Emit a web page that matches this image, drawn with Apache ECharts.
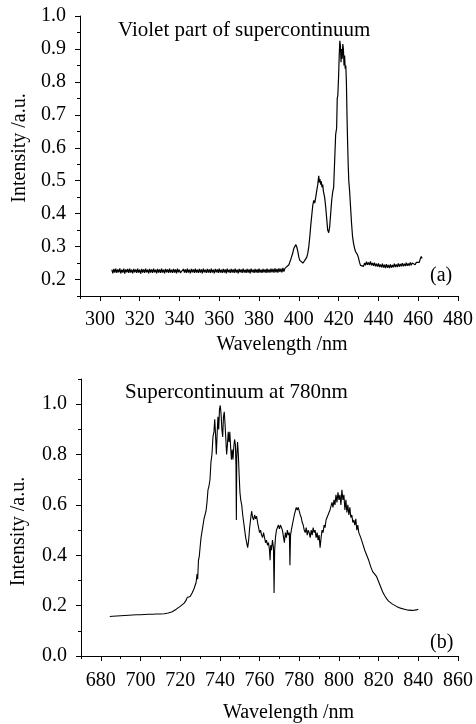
<!DOCTYPE html>
<html>
<head>
<meta charset="utf-8">
<script src="https://cdn.jsdelivr.net/npm/echarts@6/dist/echarts.min.js"></script>
<style>
  html, body { margin: 0; padding: 0; background: #fff; }
  #chart { width: 476px; height: 724px; }
</style>
</head>
<body>
<div id="chart"></div>
<script>
// (a) violet part: [wavelength nm, intensity a.u.]
const violetSpectrum = [
  [306,.230],[306.5,.219],[307,.232],[307.5,.221],[308,.233],[308.5,.220],[309,.231],[309.5,.222],[310,.234],[310.5,.219],
  [311,.230],[311.5,.221],[312,.233],[312.5,.218],[313,.231],[313.5,.222],[314,.232],[314.5,.220],[315,.233],[315.5,.221],
  [316,.230],[316.5,.219],[317,.232],[317.5,.222],[318,.231],[318.5,.220],[319,.233],[319.5,.221],[320,.230],[320.5,.218],
  [321,.232],[321.5,.221],[322,.231],[322.5,.220],[323,.233],[323.5,.222],[324,.230],[324.5,.219],[325,.232],[325.5,.221],
  [326,.231],[326.5,.220],[327,.233],[327.5,.222],[328,.230],[328.5,.219],[329,.232],[329.5,.221],[330,.231],[330.5,.220],
  [331,.233],[331.5,.221],[332,.230],[332.5,.219],[333,.232],[333.5,.222],[334,.231],[334.5,.220],[335,.233],[335.5,.221],
  [336,.230],[336.5,.220],[337,.232],[337.5,.221],[338,.231],[338.5,.219],[339,.233],[339.5,.222],[340,.230],[340.5,.220],
  [342,.232],[342.5,.221],[343,.231],[343.5,.220],[344,.233],[344.5,.221],[345,.230],[345.5,.219],[346,.232],[346.5,.222],
  [347,.231],[347.5,.220],[348,.233],[348.5,.221],[349,.230],[349.5,.220],[350,.232],[350.5,.221],[351,.231],[351.5,.219],
  [352,.233],[352.5,.222],[353,.230],[353.5,.220],[354,.232],[354.5,.221],[355,.231],[355.5,.220],[356,.233],[356.5,.221],
  [357,.230],[357.5,.219],[358,.232],[358.5,.222],[359,.231],[359.5,.220],[360,.233],[360.5,.221],[361,.230],[361.5,.220],
  [362,.232],[362.5,.221],[363,.231],[363.5,.219],[364,.233],[364.5,.222],[365,.230],[365.5,.220],[366,.232],[366.5,.221],
  [367,.231],[367.5,.220],[368,.233],[368.5,.221],[369,.230],[369.5,.219],[370,.232],[370.5,.222],[371,.231],[371.5,.220],
  [372,.233],[372.5,.221],[373,.230],[373.5,.220],[374,.232],[374.5,.221],[375,.231],[375.5,.219],[376,.233],[376.5,.222],
  [377,.230],[377.5,.220],[378,.232],[378.5,.221],[379,.231],[379.5,.220],[380,.233],[380.5,.221],[381,.230],[381.5,.220],
  [382,.232],[382.5,.222],[383,.231],[383.5,.220],[384,.233],[384.5,.221],[385,.231],[385.5,.221],[386,.233],[386.5,.222],
  [387,.232],[387.5,.221],[388,.234],[388.5,.222],[389,.232],[389.5,.221],[390,.234],[390.5,.223],[391,.233],[391.5,.222],
  [392,.235],[392.5,.224],[393,.234],[393.5,.230],
  [394,.238],[395,.245],[396,.262],[397,.282],[397.5,.295],[398,.300],[398.5,.306],[399,.298],[399.5,.285],
  [400,.268],[400.5,.258],[401,.252],[401.5,.255],[402,.250],[402.5,.256],[403,.258],[403.5,.262],[404,.268],
  [404.5,.280],[405,.300],[405.5,.330],[406,.365],[406.5,.395],[407,.425],[407.5,.440],[408,.432],[408.5,.450],
  [409,.470],[409.5,.488],[410,.515],[410.3,.495],[410.6,.505],[411,.488],[411.3,.498],[411.6,.480],[412,.488],
  [412.3,.470],[412.6,.475],[413,.448],[413.5,.420],[414,.385],[414.5,.350],[415,.342],[415.5,.360],[416,.400],
  [416.5,.440],[417,.465],[417.5,.480],[418,.560],[418.5,.640],[419,.660],[419.3,.750],[419.6,.760],[420,.820],
  [420.3,.880],[420.6,.925],[420.9,.910],[421.2,.860],[421.5,.900],[421.8,.870],[422.1,.915],[422.4,.900],
  [422.7,.850],[423,.880],[423.3,.840],[423.6,.850],[423.9,.800],[424.2,.700],[424.5,.620],[424.8,.550],
  [425.1,.500],[425.5,.470],[426,.420],[426.5,.370],[427,.330],[427.5,.310],[428,.295],[428.5,.285],[429,.280],
  [429.5,.275],[430,.265],[430.5,.252],[431,.243],[431.5,.238],[432,.245],[432.5,.240],[433,.250],[433.5,.243],
  [434,.254],[434.5,.245],[435,.252],[435.5,.244],[436,.255],[436.5,.243],[437,.250],[437.5,.242],[438,.251],
  [438.5,.240],[439,.248],[439.5,.239],[440,.249],[440.5,.238],[441,.246],[441.5,.237],[442,.248],[442.5,.236],
  [443,.245],[443.5,.235],[444,.247],[444.5,.236],[445,.244],[445.5,.235],[446,.246],[446.5,.236],[447,.244],
  [447.5,.237],[448,.248],[448.5,.238],[449,.246],[449.5,.238],[450,.249],[450.5,.239],[451,.247],[451.5,.240],
  [452,.250],[452.5,.240],[453,.248],[453.5,.241],[454,.251],[454.5,.242],[455,.249],[455.5,.242],[456,.252],
  [456.5,.243],[457,.250],[457.5,.244],[458,.253],[458.5,.245],[459,.252],[459.5,.247],[460,.257],[460.5,.252],
  [461,.262],[461.5,.270],[462,.264]
];

// (b) supercontinuum at 780nm: [wavelength nm, intensity a.u.]
const scSpectrum = [
  [684.5,.157],[685,.153],[686,.158],[687,.154],[688,.159],[689,.155],[690,.160],[691,.156],[692,.161],[693,.157],
  [694,.162],[695,.158],[696,.163],[697,.159],[698,.164],[699,.160],[700,.164],[701,.161],[702,.165],[703,.161],
  [704,.166],[705,.162],[706,.166],[707,.163],[708,.167],[709,.163],[710,.167],[711,.164],[712,.168],[713,.167],
  [714,.171],[715,.172],[716,.176],[717,.180],[718,.186],[719,.190],[720,.197],[721,.203],[722,.210],[723,.222],
  [723.5,.232],[724,.226],[725,.236],[726,.250],[727,.268],[728,.292],[728.5,.325],[728.8,.305],[729.2,.380],
  [729.6,.395],[730,.430],[730.5,.470],[731,.495],[731.5,.520],[732,.545],[732.5,.560],[733,.575],[733.5,.610],
  [734,.660],[734.5,.675],[735,.700],[735.5,.770],[736,.800],[736.5,.870],[737,.890],[737.4,.940],[737.8,.880],
  [738.2,.800],[738.6,.880],[739,.950],[739.4,.900],[739.8,.980],[740.2,.995],[740.6,.960],[741,.900],[741.4,.870],
  [741.8,.950],[742.2,.970],[742.6,.920],[743,.860],[743.4,.800],[743.8,.840],[744.2,.890],[744.6,.850],[745,.890],
  [745.4,.830],[745.8,.780],[746.2,.820],[746.6,.780],[747,.830],[747.4,.860],[747.8,.840],[748.1,.760],[748.3,.540],
  [748.5,.790],[748.9,.850],[749.3,.800],[749.7,.720],[750.1,.650],[750.5,.620],[751,.600],[751.5,.560],[752,.530],
  [752.5,.500],[753,.470],[753.5,.450],[754,.430],[754.5,.460],[755,.510],[755.5,.545],[756,.575],[756.5,.550],
  [757,.540],[757.5,.560],[758,.545],[758.5,.555],[759,.530],[759.5,.510],[760,.490],[760.5,.500],[761,.480],
  [761.5,.470],[762,.490],[762.5,.470],[763,.450],[763.5,.460],[764,.440],[764.5,.450],[765,.420],[765.3,.380],
  [765.6,.440],[766,.420],[766.5,.460],[767,.430],[767.3,.250],[767.6,.420],[768,.470],[768.5,.500],[769,.510],
  [769.5,.520],[770,.505],[770.5,.520],[771,.510],[771.5,.500],[772,.505],[772.5,.450],[773,.490],[773.5,.470],
  [774,.500],[774.5,.480],[775,.490],[775.3,.360],[775.6,.480],[776,.500],[776.5,.520],[777,.540],[777.5,.560],
  [778,.575],[778.5,.590],[779,.580],[779.5,.590],[780,.575],[780.5,.560],[781,.550],[781.5,.530],[782,.520],
  [782.5,.500],[783,.490],[783.5,.510],[784,.480],[784.5,.500],[785,.490],[785.5,.470],[786,.500],[786.5,.480],
  [787,.510],[787.5,.490],[788,.500],[788.5,.470],[789,.490],[789.5,.460],[790,.480],[790.5,.430],[791,.470],
  [791.5,.500],[792,.490],[792.5,.520],[793,.510],[793.5,.540],[794,.550],[794.5,.560],[795,.570],[795.5,.580],
  [796,.585],[796.5,.610],[797,.590],[797.5,.620],[798,.600],[798.5,.640],[799,.610],[799.5,.650],[800,.620],
  [800.5,.640],[801,.600],[801.5,.660],[802,.620],[802.5,.640],[803,.580],[803.5,.620],[804,.570],[804.5,.600],
  [805,.560],[805.5,.590],[806,.550],[806.5,.560],[807,.530],[807.5,.540],[808,.520],[808.5,.545],[809,.500],
  [809.5,.520],[810,.490],[811,.470],[812,.445],[813,.420],[814,.400],[815,.380],[816,.355],[817,.335],[818,.330],
  [819,.315],[820,.295],[821,.275],[822,.255],[823,.240],[824,.228],[825,.218],[826,.212],[827,.206],[828,.200],
  [829,.197],[830,.193],[831,.190],[832,.188],[833,.186],[834,.184],[835,.182],[836,.186],[837,.181],[838,.187],
  [839,.183],[840,.186]
];

// axis ticks
const xMajorA = [300, 320, 340, 360, 380, 400, 420, 440, 460, 480];
const xMinorA = [290, 310, 330, 350, 370, 390, 410, 430, 450, 470];
const yMajorA = [0.2, 0.3, 0.4, 0.5, 0.6, 0.7, 0.8, 0.9, 1.0];
const yMinorA = [0.15, 0.25, 0.35, 0.45, 0.55, 0.65, 0.75, 0.85, 0.95];
const xMajorB = [680, 700, 720, 740, 760, 780, 800, 820, 840, 860];
const xMinorB = [670, 690, 710, 730, 750, 770, 790, 810, 830, 850];
const yMajorB = [0.0, 0.2, 0.4, 0.6, 0.8, 1.0];
const yMinorB = [0.1, 0.3, 0.5, 0.7, 0.9, 1.1];

const FONT = 'Liberation Serif';
const INK = '#000';

const chart = echarts.init(document.getElementById('chart'), null, { renderer: 'canvas' });

/* 主刻度轴：带标签 */
function majorAxis(gridIndex, min, max, ticks, isX, digits, name, nameGap, namePad, labelMargin) {
  return {
    type: 'value', gridIndex, min, max,
    position: isX ? 'bottom' : 'left',
    name, nameLocation: 'middle', nameGap,
    nameTextStyle: { fontFamily: FONT, fontSize: 20, color: INK, padding: namePad },
    axisLine: { show: true, onZero: false, lineStyle: { color: INK, width: 1 } },
    axisTick: { show: true, inside: false, length: 5, customValues: ticks, lineStyle: { color: INK } },
    axisLabel: {
      customValues: ticks, margin: labelMargin,
      fontFamily: FONT, fontSize: 20, color: INK,
      formatter: (v) => v.toFixed(digits)
    },
    splitLine: { show: false }
  };
}

/* 次刻度轴：只画短刻度，与主轴重合 */
function minorAxis(gridIndex, min, max, ticks, isX) {
  return {
    type: 'value', gridIndex, min, max,
    position: isX ? 'bottom' : 'left',
    offset: 0,
    axisLine: { show: false, onZero: false },
    axisTick: { show: true, inside: false, length: 3, customValues: ticks, lineStyle: { color: INK } },
    axisLabel: { show: false },
    splitLine: { show: false }
  };
}

const option = {
  backgroundColor: '#fff',
  animation: false,
  grid: [
    { left: 80, right: 16, top: 16, bottom: 428 },
    { left: 81, right: 16, top: 379, bottom: 64 }
  ],
  title: [
    { text: 'Violet part of supercontinuum', left: 113, top: 15,
      textStyle: { fontFamily: FONT, fontSize: 21, fontWeight: 'normal', color: INK } },
    { text: 'Supercontinuum at 780nm', left: 120, top: 377,
      textStyle: { fontFamily: FONT, fontSize: 21, fontWeight: 'normal', color: INK } }
  ],
  graphic: [
    { type: 'text', left: 430, top: 266, style: { text: '(a)', font: '20px "Liberation Serif"', fill: INK } },
    { type: 'text', left: 430, top: 633, style: { text: '(b)', font: '20px "Liberation Serif"', fill: INK } }
  ],
  xAxis: [
    majorAxis(0, 290, 480, xMajorA, true, 0, 'Wavelength /nm', 39, [0, 0, 0, 26], 14),
    minorAxis(0, 290, 480, xMinorA, true),
    majorAxis(1, 670, 860, xMajorB, true, 0, 'Wavelength /nm', 47, [0, 0, 0, 38], 15),
    minorAxis(1, 670, 860, xMinorB, true)
  ],
  yAxis: [
    majorAxis(0, 0.15, 1.0, yMajorA, false, 1, 'Intensity /a.u.', 50, [0, 0, 0, 16], 14),
    minorAxis(0, 0.15, 1.0, yMinorA, false),
    majorAxis(1, 0, 1.1, yMajorB, false, 1, 'Intensity /a.u.', 52, [0, 28, 0, 0], 14),
    minorAxis(1, 0, 1.1, yMinorB, false)
  ],
  series: [
    {
      type: 'line', xAxisIndex: 0, yAxisIndex: 0, data: violetSpectrum,
      showSymbol: false, symbol: 'none', lineStyle: { color: INK, width: 1.2 }
    },
    {
      type: 'line', xAxisIndex: 2, yAxisIndex: 2, data: scSpectrum,
      showSymbol: false, symbol: 'none', lineStyle: { color: INK, width: 1.1 }
    }
  ]
};

chart.setOption(option);
window.addEventListener('resize', () => chart.resize());
</script>
</body>
</html>
